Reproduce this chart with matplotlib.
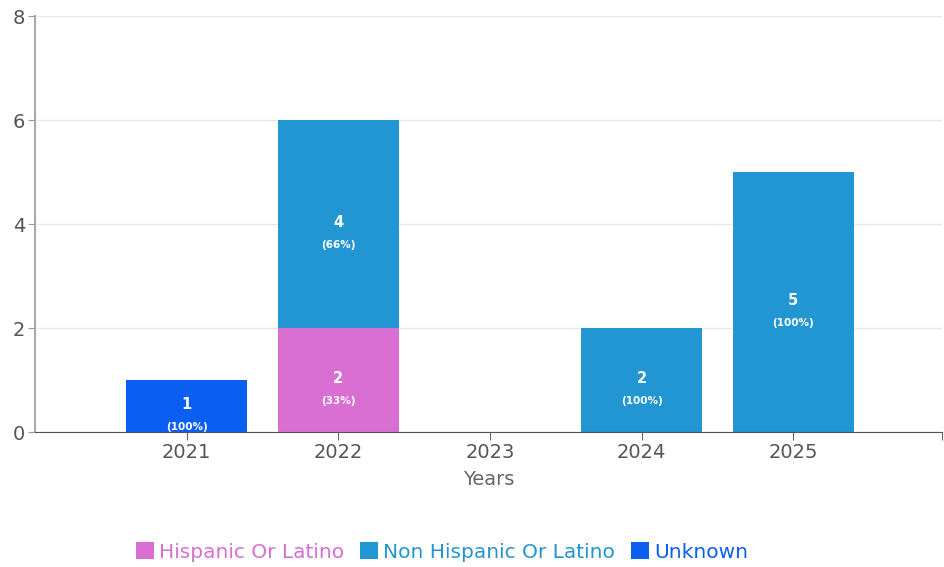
import matplotlib
matplotlib.use("Agg")
import matplotlib.pyplot as plt
import numpy as np

years = ["2021", "2022", "2023", "2024", "2025"]
hispanic = [0, 2, 0, 0, 0]
non_hispanic = [0, 4, 0, 2, 5]
unknown = [1, 0, 0, 0, 0]
hispanic_pct = ["", "33%", "", "", ""]
non_hispanic_pct = ["", "66%", "", "100%", "100%"]
unknown_pct = ["100%", "", "", "", ""]
series_names = ["Hispanic Or Latino", "Non Hispanic Or Latino", "Unknown"]
colors = ["#D96FD2", "#2196D3", "#0A5FF2"]
yticks = [0, 2, 4, 6, 8]

fig = plt.figure(figsize=(9.44, 5.67), dpi=100)
ax = fig.add_axes([35/944, 1-432/567, 1-35/944-2/944, (432-16)/567])

x = np.arange(len(years))
width = 0.8
bottom = np.zeros(len(years))
series = [hispanic, non_hispanic, unknown]
pcts = [hispanic_pct, non_hispanic_pct, unknown_pct]
for vals, pct, col, name in zip(series, pcts, colors, series_names):
    vals = np.array(vals, dtype=float)
    ax.bar(x, vals, width, bottom=bottom, color=col, label=name, zorder=3)
    for i, v in enumerate(vals):
        if v > 0:
            cy = bottom[i] + v / 2
            ax.annotate(f"{int(v)}", (x[i], cy), xytext=(0, 1), textcoords="offset points",
                        ha="center", va="center", color="white", fontsize=10.5, fontweight="bold", zorder=4)
            ax.annotate(f"({pct[i]})", (x[i], cy), xytext=(0, -15), textcoords="offset points",
                        ha="center", va="center", color="white", fontsize=7.5, fontweight="bold", zorder=4)
    bottom += vals

ax.set_xlim(-1, 4.98)
ax.set_ylim(0, 8)
ax.set_yticks(yticks)
ax.set_yticklabels([str(t) for t in yticks], fontsize=14, color="#555555")
ax.set_xticks(list(x) + [4.98])
ax.set_xticklabels(years + [""], fontsize=14, color="#555555")
ax.tick_params(axis="x", length=6, color="#666666", pad=2)
ax.tick_params(axis="y", length=5, color="#999999", pad=2)
ax.grid(axis="y", color="#E8E8E8", linewidth=1, zorder=0)
for s in ["top", "right"]:
    ax.spines[s].set_visible(False)
ax.spines["left"].set_color("#AAAAAA")
ax.spines["left"].set_linewidth(1.5)
ax.spines["bottom"].set_color("#555555")
ax.spines["bottom"].set_zorder(5)
ax.set_xlabel("Years", fontsize=14, color="#666666", labelpad=6)

handles, labels = ax.get_legend_handles_labels()
leg = fig.legend(handles, labels, loc="center", bbox_to_anchor=(442/944, 1-552/567), ncol=3,
                 frameon=False, fontsize=14.5, handlelength=0.9, handleheight=0.9,
                 handletextpad=0.25, columnspacing=0.8)
for t, c in zip(leg.get_texts(), colors):
    t.set_color(c)

fig.savefig("out.png", dpi=100)
